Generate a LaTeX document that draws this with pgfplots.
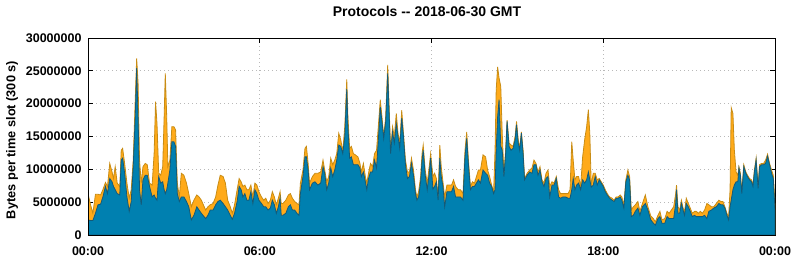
\documentclass[border=0pt]{standalone}
\usepackage{fontspec}
\setmainfont{Liberation Sans}
\usepackage{pgfplots}
\usepackage{pgfplotstable}
\pgfplotsset{compat=1.18}
\definecolor{fillblue}{RGB}{0,128,176}
\definecolor{edgeblue}{RGB}{20,90,120}
\definecolor{fillorange}{RGB}{255,170,25}
\definecolor{edgeorange}{RGB}{200,140,20}
\pgfplotstableread{
h top blue
0.00 6.3 2.3
0.09 4.6 2.2
0.17 3.3 2.2
0.26 6.2 3.3
0.35 6.2 4.6
0.44 6.1 4.7
0.52 6.9 5.8
0.61 8.0 7.4
0.68 7.4 6.3
0.76 10.9 8.6
0.84 9.6 8.1
0.89 8.6 7.4
0.95 10.4 6.9
1.02 7.9 6.3
1.11 7.4 6.1
1.16 12.9 11.4
1.21 13.2 11.7
1.28 10.9 9.4
1.36 7.9 5.8
1.44 5.6 3.6
1.51 6.9 5.1
1.58 11.4 10.4
1.65 20.6 18.0
1.70 26.9 25.4
1.75 23.1 18.0
1.80 11.4 6.9
1.86 7.9 4.6
1.92 10.4 8.4
2.00 10.9 9.1
2.07 10.7 9.1
2.15 7.9 7.4
2.24 7.6 5.8
2.31 12.4 6.1
2.36 20.3 5.6
2.41 17.0 5.3
2.47 9.4 8.9
2.54 9.1 7.9
2.61 10.4 8.1
2.66 18.0 6.9
2.70 24.6 6.3
2.75 18.0 6.9
2.79 10.4 7.9
2.86 11.4 9.9
2.93 16.5 14.2
3.00 16.5 14.2
3.06 16.0 13.5
3.12 7.9 6.3
3.19 5.8 5.1
3.26 9.4 5.8
3.35 9.1 5.8
3.44 7.9 5.1
3.52 6.3 4.3
3.61 4.3 2.3
3.70 5.3 3.0
3.80 6.1 4.3
3.88 5.8 3.8
3.96 5.3 3.3
4.11 3.8 2.5
4.19 4.3 3.0
4.27 4.6 3.8
4.37 4.8 3.8
4.46 5.8 4.6
4.54 7.6 5.1
4.62 9.1 5.3
4.72 8.9 4.8
4.80 7.9 4.3
4.88 5.3 3.8
4.97 4.3 3.0
5.04 3.3 2.4
5.12 4.6 3.3
5.21 6.9 5.1
5.28 8.6 7.4
5.35 8.1 6.9
5.41 7.4 5.8
5.48 7.6 6.3
5.55 6.9 5.3
5.62 6.9 5.3
5.69 7.6 6.6
5.76 5.8 4.8
5.83 7.9 6.9
5.90 7.6 6.3
5.97 6.6 5.3
6.06 5.8 4.8
6.14 5.3 4.3
6.21 5.6 4.3
6.29 4.8 3.8
6.37 5.3 4.1
6.44 6.6 5.3
6.51 5.8 4.6
6.58 4.6 3.3
6.65 5.6 4.3
6.71 6.6 5.6
6.75 4.8 3.0
6.81 4.8 3.0
6.91 5.3 3.3
7.00 6.1 4.3
7.07 6.3 4.6
7.14 5.6 3.8
7.22 5.1 3.8
7.30 4.8 3.3
7.37 4.6 3.0
7.42 7.9 6.3
7.51 9.9 8.9
7.58 13.2 11.9
7.63 13.5 11.9
7.69 10.9 9.9
7.74 7.9 6.9
7.84 8.9 7.9
7.93 9.4 8.1
8.03 9.4 7.6
8.13 9.6 7.9
8.21 11.4 10.4
8.27 9.9 9.4
8.34 8.1 6.9
8.41 8.9 7.9
8.48 11.7 10.2
8.55 10.7 8.9
8.62 11.4 9.9
8.69 12.4 11.4
8.76 15.5 13.7
8.83 14.5 13.5
8.90 12.7 12.4
8.97 16.5 15.0
9.04 23.7 22.2
9.08 18.0 16.5
9.14 13.2 11.7
9.20 13.5 11.9
9.27 12.4 10.7
9.34 12.2 10.7
9.43 11.9 10.7
9.50 10.9 10.2
9.55 9.6 8.9
9.62 10.9 9.6
9.69 8.9 8.1
9.74 7.9 6.9
9.80 9.4 8.6
9.87 10.9 9.6
9.94 10.4 9.6
10.01 12.4 11.4
10.08 12.9 10.2
10.15 17.0 15.0
10.21 20.6 19.5
10.27 18.0 17.3
10.33 15.0 14.7
10.40 18.0 17.3
10.47 25.9 24.6
10.52 19.5 18.5
10.57 12.9 12.4
10.64 16.5 15.7
10.70 15.0 14.0
10.77 18.5 17.0
10.83 15.5 15.0
10.89 14.0 13.2
10.96 19.0 17.8
11.02 15.5 15.0
11.09 11.4 10.7
11.16 9.6 8.6
11.23 9.6 8.9
11.30 11.7 10.9
11.37 9.9 9.1
11.44 6.9 6.3
11.49 5.8 5.3
11.55 6.6 5.8
11.62 8.9 8.1
11.67 12.4 11.4
11.71 13.7 12.9
11.78 9.9 9.1
11.85 7.9 6.9
11.92 10.4 9.4
11.97 12.4 11.7
12.05 8.9 7.0
12.11 9.4 7.4
12.17 8.6 8.1
12.23 5.8 5.3
12.29 13.7 11.7
12.34 10.4 8.9
12.40 8.1 7.4
12.46 5.8 4.3
12.54 7.6 6.6
12.63 7.6 6.6
12.70 7.6 6.6
12.77 8.4 7.4
12.84 7.4 5.8
12.93 6.9 5.8
13.01 6.9 5.8
13.10 6.3 5.3
13.17 12.9 11.9
13.23 15.7 14.7
13.29 11.4 10.7
13.36 7.4 6.9
13.43 8.1 7.4
13.50 7.9 7.4
13.57 8.9 7.9
13.64 9.9 8.4
13.71 9.9 7.9
13.80 12.2 9.9
13.89 11.9 9.4
13.96 9.9 9.1
14.03 8.9 7.9
14.10 7.6 7.4
14.17 6.6 6.3
14.22 12.9 6.9
14.26 22.1 12.9
14.31 25.6 18.0
14.36 23.9 20.6
14.42 22.6 13.5
14.47 15.5 12.9
14.53 9.4 8.9
14.59 12.9 12.4
14.64 17.5 17.3
14.71 14.0 13.5
14.78 13.7 12.9
14.85 13.5 13.2
14.92 15.0 14.5
14.97 17.3 16.8
15.03 14.5 14.0
15.08 13.2 12.9
15.14 15.7 15.5
15.20 12.9 12.4
15.25 8.6 8.4
15.34 9.4 9.1
15.43 9.9 9.6
15.51 10.2 9.4
15.58 11.4 10.7
15.65 10.9 10.7
15.72 9.6 9.1
15.79 10.4 9.9
15.86 8.4 8.1
15.93 7.9 7.4
16.00 9.4 8.6
16.07 9.9 8.9
16.13 7.4 5.8
16.21 8.1 7.6
16.28 7.9 7.6
16.36 8.9 8.6
16.44 6.9 5.8
16.51 6.3 5.6
16.59 6.3 5.8
16.68 6.3 5.8
16.77 6.3 5.6
16.84 6.9 5.6
16.90 14.2 6.9
16.95 11.4 8.6
17.01 8.4 6.9
17.07 8.9 7.6
17.14 8.9 7.9
17.21 7.4 6.9
17.28 11.9 8.4
17.35 14.5 7.9
17.42 16.5 8.4
17.48 19.1 9.6
17.53 15.5 8.4
17.58 7.6 7.3
17.65 9.4 7.6
17.72 9.4 8.9
17.79 8.4 7.6
17.86 8.6 8.4
17.93 8.1 7.9
18.00 7.6 7.4
18.07 6.9 6.6
18.14 6.3 6.1
18.22 5.8 5.6
18.31 5.6 5.3
18.38 5.3 5.1
18.45 5.8 5.6
18.52 5.8 5.6
18.59 6.1 5.8
18.65 5.8 5.3
18.72 4.6 4.1
18.79 8.4 8.1
18.86 9.9 9.1
18.92 8.9 8.4
18.98 3.8 2.8
19.05 4.3 3.0
19.12 4.6 3.6
19.21 5.1 4.1
19.28 3.6 3.0
19.37 4.8 4.3
19.47 6.1 4.8
19.56 4.3 3.8
19.66 2.9 2.3
19.75 2.5 1.8
19.82 2.0 1.5
19.91 3.0 2.5
19.98 3.6 2.8
20.05 2.3 1.8
20.15 2.5 1.8
20.23 3.6 2.8
20.30 3.3 2.5
20.38 3.8 2.5
20.46 4.3 2.5
20.53 6.3 4.8
20.56 7.6 6.9
20.61 4.3 3.3
20.67 3.8 3.3
20.73 5.3 4.8
20.79 4.1 3.8
20.84 3.6 3.0
20.90 5.6 4.8
20.97 4.8 4.3
21.04 4.1 3.6
21.11 3.3 2.8
21.19 3.6 3.0
21.25 3.6 2.8
21.32 3.3 2.8
21.39 3.6 2.8
21.46 3.3 2.8
21.54 3.8 3.0
21.62 4.8 2.5
21.69 4.6 3.6
21.78 4.3 3.8
21.86 4.3 4.1
21.95 4.8 4.3
22.04 5.3 4.8
22.11 5.1 4.6
22.18 5.1 4.6
22.25 4.3 4.1
22.32 3.3 3.0
22.38 2.8 2.3
22.43 6.9 4.3
22.47 19.4 5.3
22.53 18.5 6.9
22.58 12.9 7.6
22.64 9.6 8.1
22.70 9.1 8.1
22.74 10.4 10.2
22.79 9.4 9.1
22.84 6.6 6.3
22.91 10.7 10.4
22.98 9.6 9.4
23.04 9.1 8.9
23.11 8.6 8.4
23.18 8.4 8.1
23.23 7.6 7.4
23.28 9.9 9.6
23.34 11.7 11.4
23.41 7.4 7.1
23.46 10.7 10.4
23.53 10.9 10.7
23.60 10.9 10.7
23.67 11.4 10.9
23.74 12.3 12.0
23.81 10.9 10.7
23.88 9.9 9.4
23.94 9.1 8.6
24.00 4.8 3.8
}\traffic
\begin{document}
\begin{tikzpicture}
\path[use as bounding box] (0,0) rectangle (794bp,260bp);
\begin{axis}[
  at={(88bp,25bp)}, anchor=south west,
  scale only axis, width=687bp, height=197bp,
  xmin=0, xmax=24, ymin=0, ymax=30,
  xtick={0,6,12,18,24},
  xticklabels={00:00,06:00,12:00,18:00,00:00},
  ytick={0,5,10,15,20,25,30},
  yticklabels={0,5000000,10000000,15000000,20000000,25000000,30000000},
  tick align=inside, major tick length=5bp,
  tick style={black, line width=0.8bp},
  grid=major, grid style={dash pattern=on 1bp off 3bp, gray!55, line width=1bp},
  axis line style={line width=1bp},
  ticklabel style={font=\bfseries\fontsize{12.5bp}{14bp}\selectfont},
  yticklabel style={xshift=-3bp},
  xticklabel style={yshift=-8bp},
]
\addplot[fill=fillorange, draw=edgeorange, line width=0.8bp] table[x=h, y=top] {\traffic} \closedcycle;
\addplot[fill=fillblue, draw=edgeblue, line width=0.8bp] table[x=h, y=blue] {\traffic} \closedcycle;
\draw[line width=1bp] (rel axis cs:0,0) rectangle (rel axis cs:1,1);
\end{axis}
\node[font=\bfseries\fontsize{12.75bp}{14bp}\selectfont, rotate=90] at (12bp,120bp) {Bytes per time slot (300 s)};
\node[font=\bfseries\fontsize{14bp}{16bp}\selectfont] at (427bp,248bp) {Protocols -{}- 2018-06-30 GMT};
\end{tikzpicture}
\end{document}
